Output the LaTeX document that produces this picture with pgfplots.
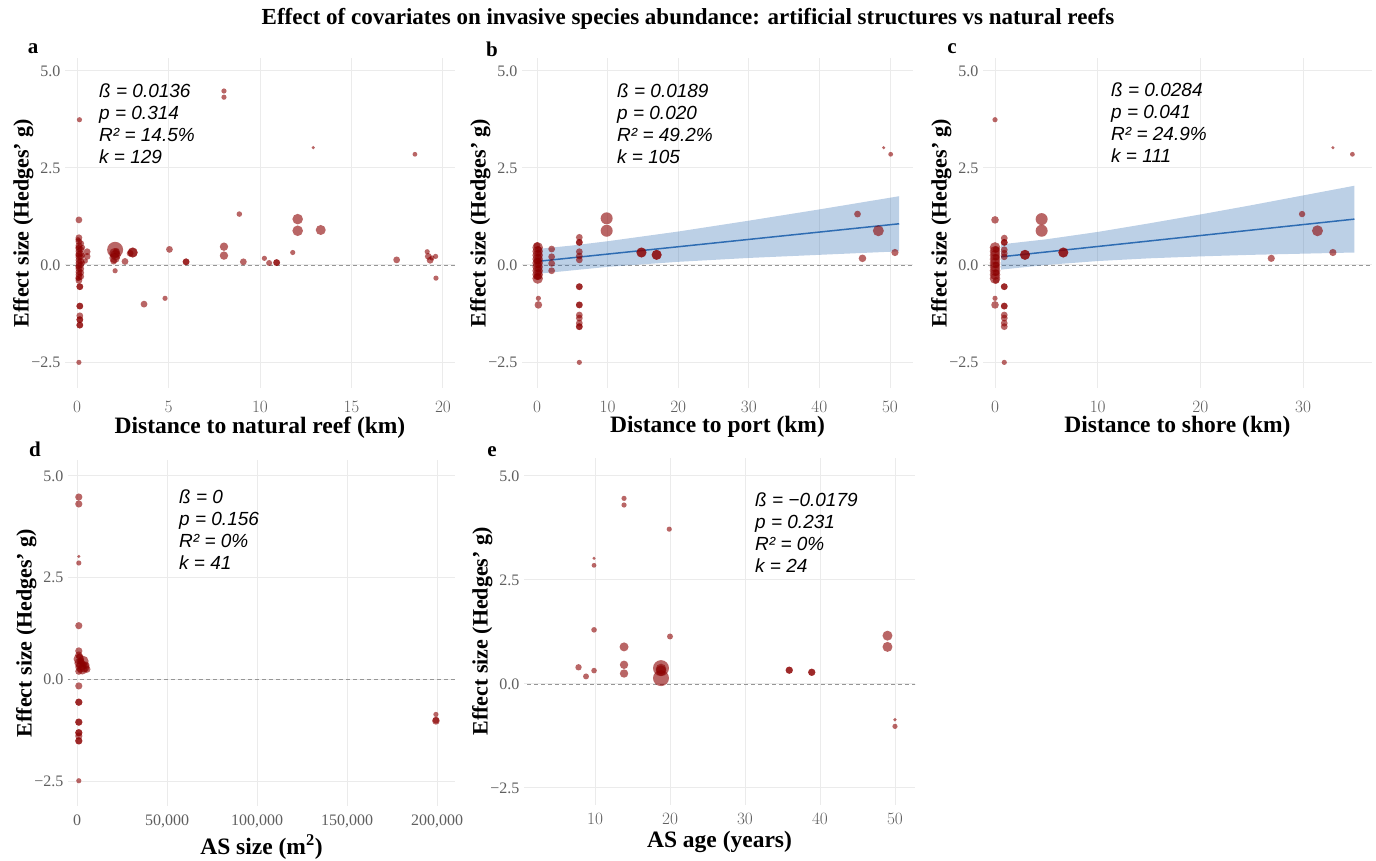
\documentclass[border=0pt]{standalone}
\usepackage{fontspec}
\setmainfont{Liberation Serif}
\setsansfont{Liberation Sans}
\usepackage{pgfplots}
\usepackage{pgfplotstable}
\pgfplotsset{compat=1.18}

\definecolor{ptred}{RGB}{139,0,0}
\definecolor{blueline}{RGB}{46,108,178}
\definecolor{gridgray}{RGB}{235,235,235}
\definecolor{tickgray}{RGB}{95,95,95}
\definecolor{zerogray}{RGB}{150,150,150}

% radius column r in pt
\pgfplotstableread{
x y r
0.13 3.74 2.6
0.10 -2.51 2.6
0.10 1.16 3.4
0.10 0.70 3.4
0.10 0.60 3.4
0.10 0.50 3.4
0.10 0.42 3.4
0.10 0.35 3.4
0.10 0.28 3.4
0.10 0.20 3.4
0.10 0.12 3.4
0.10 0.05 3.4
0.10 -0.02 3.4
0.10 -0.10 3.4
0.10 -0.18 3.4
0.10 -0.25 3.4
0.10 -0.32 3.4
0.10 -0.40 3.4
0.20 0.55 3.4
0.20 0.40 3.4
0.20 0.30 3.4
0.20 0.20 3.4
0.20 0.10 3.4
0.20 0.00 3.4
0.20 -0.10 3.4
0.20 -0.20 3.4
0.20 -0.30 3.4
0.05 0.65 2.6
0.05 0.45 2.6
0.05 0.25 2.6
0.05 -0.05 2.6
0.05 -0.35 2.6
0.30 0.45 2.6
0.30 0.25 2.6
0.30 0.05 2.6
0.55 0.34 3.4
0.55 0.22 3.4
0.45 0.10 2.6
0.15 -0.56 3.4
0.15 -0.56 3.4
0.15 -1.06 3.4
0.15 -1.06 3.4
0.15 -1.31 3.4
0.15 -1.41 3.4
0.15 -1.41 3.4
0.15 -1.55 3.4
0.15 -1.55 3.4
2.08 0.39 8.0
2.05 0.30 5.3
2.05 0.18 5.3
2.10 0.25 5.3
2.00 0.10 3.4
2.15 0.35 3.4
2.08 -0.15 2.6
2.62 0.09 3.4
3.04 0.32 5.0
3.04 0.32 5.0
2.90 0.30 3.4
3.66 -1.01 3.4
4.81 -0.86 2.6
5.05 0.40 3.4
5.96 0.08 3.4
5.96 0.08 3.4
8.03 4.48 2.6
8.03 4.32 2.6
8.03 0.47 4.2
8.03 0.24 4.2
8.87 1.31 2.8
9.09 0.08 3.4
10.24 0.17 2.6
10.50 0.05 3.0
10.91 0.06 3.4
10.91 0.06 3.4
11.79 0.32 2.6
12.06 1.18 5.3
12.06 0.88 5.3
12.91 3.02 1.7
13.32 0.90 5.0
17.47 0.13 3.4
18.47 2.85 2.4
19.14 0.34 2.6
19.20 0.22 3.4
19.30 0.12 3.4
19.40 0.18 2.6
19.60 0.22 2.6
19.62 -0.34 2.6
}\dataA

\pgfplotstableread{
x y r
0.10 0.45 5.3
0.10 0.35 5.3
0.10 0.25 5.3
0.10 0.15 5.3
0.10 0.05 5.3
0.10 -0.05 5.3
0.10 -0.15 5.3
0.10 -0.25 5.3
0.10 -0.35 5.3
0.20 0.40 3.4
0.20 0.30 3.4
0.20 0.20 3.4
0.20 0.10 3.4
0.20 0.00 3.4
0.20 -0.10 3.4
0.20 -0.20 3.4
0.20 -0.30 3.4
0.00 0.50 3.4
0.00 0.10 3.4
0.00 -0.30 3.4
0.20 -0.86 2.6
0.20 -1.03 3.8
2.08 0.41 3.4
2.08 0.21 3.4
2.08 0.04 3.4
2.08 -0.15 3.4
6.00 0.71 3.4
6.00 0.58 3.4
6.00 0.58 3.4
6.00 0.34 3.4
6.00 0.23 3.4
6.00 0.13 3.4
6.00 -0.56 3.4
6.00 -0.56 3.4
6.00 -1.03 3.4
6.00 -1.03 3.4
6.00 -1.29 3.4
6.00 -1.37 3.4
6.00 -1.50 3.4
6.00 -1.59 3.4
6.00 -1.59 3.4
6.00 -2.51 2.6
9.87 1.20 6.0
9.87 0.88 6.0
14.80 0.32 5.0
14.80 0.32 5.0
16.95 0.26 5.0
16.95 0.26 5.0
45.40 1.31 3.4
46.10 0.17 3.8
48.35 0.88 5.5
49.10 3.02 1.7
50.10 2.85 2.4
50.70 0.32 3.6
}\dataB

\pgfplotstableread{
x y r
0.00 3.74 2.6
0.00 1.16 3.8
0.00 0.45 5.3
0.00 0.35 5.3
0.00 0.25 5.3
0.00 0.15 5.3
0.00 0.05 5.3
0.00 -0.05 5.3
0.00 -0.15 5.3
0.00 -0.25 5.3
0.00 -0.35 5.3
0.10 0.40 3.4
0.10 0.20 3.4
0.10 0.00 3.4
0.10 -0.20 3.4
0.10 -0.40 3.4
0.00 -0.86 2.6
0.00 -1.03 3.8
0.90 0.69 3.4
0.90 0.58 3.4
0.90 0.58 3.4
0.90 0.39 3.4
0.90 0.21 3.4
0.90 0.30 3.4
0.90 -0.56 3.4
0.90 -0.56 3.4
0.90 -1.06 3.4
0.90 -1.06 3.4
0.90 -1.29 3.4
0.90 -1.37 3.4
0.90 -1.50 3.4
0.90 -1.59 3.4
0.90 -2.51 2.6
2.92 0.26 5.0
2.92 0.26 5.0
4.54 1.18 6.0
4.54 0.88 6.0
6.65 0.32 5.0
6.65 0.32 5.0
26.90 0.17 3.6
29.90 1.31 3.2
31.40 0.88 5.5
32.90 3.02 1.7
32.90 0.32 3.6
34.80 2.85 2.4
}\dataC

\pgfplotstableread{
x y r
1000 4.48 3.6
1000 4.31 3.6
1000 3.02 1.7
1000 2.86 2.6
1000 1.32 3.6
1000 0.70 3.6
1000 0.60 3.6
1000 0.50 5.3
1500 0.40 5.3
2000 0.30 5.3
2500 0.35 5.3
3000 0.25 5.3
3500 0.45 5.3
4000 0.30 5.3
5000 0.35 3.6
5500 0.25 3.6
1000 0.20 3.6
2000 0.45 3.6
1500 0.55 3.6
1000 -0.16 3.6
1000 -0.56 3.6
1000 -0.56 3.6
1000 -1.05 3.6
1000 -1.05 3.6
1000 -1.31 3.6
1000 -1.31 3.6
1000 -1.39 3.6
1000 -1.51 3.6
1000 -1.51 3.6
1000 -2.49 2.6
199400 -0.86 2.6
199400 -1.02 3.8
199400 -1.00 3.4
}\dataD

\pgfplotstableread{
x y r
13.87 4.46 2.6
13.87 4.30 2.6
19.90 3.72 2.6
9.87 3.02 1.7
9.87 2.85 2.4
9.87 1.30 2.8
20.00 1.14 3.0
13.87 0.89 4.5
49.00 1.16 5.0
49.00 0.89 5.0
7.80 0.40 3.2
8.80 0.18 3.0
9.87 0.32 2.8
13.87 0.46 4.2
13.87 0.25 4.2
18.80 0.38 8.0
18.80 0.36 5.3
18.80 0.32 5.3
18.80 0.14 8.0
35.90 0.33 3.6
35.90 0.33 3.6
38.90 0.28 3.6
38.90 0.28 3.6
50.00 -0.86 1.8
50.00 -1.02 2.6
}\dataE

\pgfplotsset{
  panel/.style={
    scale only axis, anchor=south west,
    axis line style={draw=none},
    major tick length=0pt,
    grid=major,
    major grid style={color=gridgray, line width=0.9pt},
    tick label style={font=\fontsize{16}{16}\selectfont, color=tickgray},
    xlabel style={font=\fontsize{23.5}{25}\selectfont\bfseries},
    ylabel style={font=\fontsize{22}{24}\selectfont\bfseries},
    ylabel={Effect size (Hedges' g)},
    ylabel shift=-9pt,
    ytick={-2.5,0,2.5,5},
    yticklabels={−2.5,0.0,2.5,5.0},
    scaled x ticks=false,
    yticklabel style={xshift=-1pt},
  },
  toprow/.style={xticklabel style={yshift=-10pt}, xlabel shift=-3pt},
  botrow/.style={xticklabel style={yshift=-5pt}, xlabel shift=0pt},
  pts/.style={
    scatter, only marks, mark=*,
    scatter/use mapped color={draw=ptred, draw opacity=0, fill=ptred, fill opacity=0.6},
    visualization depends on={\thisrow{r} \as \rad},
    scatter/@pre marker code/.append style={/tikz/mark size=\rad},
  },
  zero/.style={zerogray, line width=0.7pt, dash pattern=on 4pt off 3pt},
}

\begin{document}
\begin{tikzpicture}
\useasboundingbox (0pt,0pt) rectangle (1376pt,860pt);

\node[font=\fontsize{23}{25}\selectfont\bfseries] at (688pt,841pt)
  {Effect of covariates on invasive species abundance: artificial structures vs natural reefs};

% a
\begin{axis}[panel, toprow, at={(65pt,472pt)}, width=390pt, height=330pt,
  xmin=-0.66, xmax=20.66, ymin=-3.17, ymax=5.33,
  xtick={0,5,10,15,20},
  xlabel={Distance to natural reef (km)}]
  \addplot[zero] coordinates {(-1,0) (21,0)};
  \addplot[pts] table {\dataA};
\end{axis}

% b
\begin{axis}[panel, toprow, at={(522pt,472pt)}, width=391pt, height=330pt,
  xmin=-2.12, xmax=53.26, ymin=-3.17, ymax=5.33,
  xtick={0,10,20,30,40,50},
  xlabel={Distance to port (km)}]
  \addplot[zero] coordinates {(-3,0) (54,0)};
  \addplot[draw=none, fill=blueline, fill opacity=0.32] coordinates {
    (0,0.41) (5,0.50) (10,0.61) (20,0.86) (30,1.14) (40,1.43) (51.3,1.77)
    (51.3,0.35) (40,0.26) (30,0.18) (20,0.08) (10,-0.05) (5,-0.14) (0,-0.23)} -- cycle;
  \addplot[pts] table {\dataB};
  \addplot[blueline, line width=1.5pt] coordinates {(0,0.09) (51.3,1.06)};
\end{axis}

% c
\begin{axis}[panel, toprow, at={(983pt,472pt)}, width=389pt, height=330pt,
  xmin=-1.17, xmax=36.71, ymin=-3.17, ymax=5.33,
  xtick={0,10,20,30},
  xlabel={Distance to shore (km)}]
  \addplot[zero] coordinates {(-2,0) (37,0)};
  \addplot[draw=none, fill=blueline, fill opacity=0.32] coordinates {
    (0.6,0.53) (5,0.66) (10,0.85) (15,1.07) (20,1.30) (25,1.54) (30,1.79) (35,2.04)
    (35,0.32) (30,0.29) (25,0.26) (20,0.22) (15,0.17) (10,0.10) (5,0.00) (0.6,-0.12)} -- cycle;
  \addplot[pts] table {\dataC};
  \addplot[blueline, line width=1.5pt] coordinates {(0.6,0.21) (35,1.18)};
\end{axis}

% d
\begin{axis}[panel, botrow, at={(68pt,54pt)}, width=387pt, height=346pt,
  xmin=-5000, xmax=210000, ymin=-3.11, ymax=5.39,
  xtick={0,50000,100000,150000,200000},
  xticklabels={0,{50,000},{100,000},{150,000},{200,000}},
  xlabel={AS size (m\textsuperscript{2})}]
  \addplot[zero] coordinates {(-6000,0) (211000,0)};
  \addplot[pts] table {\dataD};
\end{axis}

% e
\begin{axis}[panel, botrow, at={(524pt,55pt)}, width=391pt, height=347pt,
  xmin=0.53, xmax=52.67, ymin=-2.91, ymax=5.43,
  xtick={10,20,30,40,50},
  xlabel={AS age (years)}]
  \addplot[zero] coordinates {(0,0) (53,0)};
  \addplot[pts] table {\dataE};
\end{axis}

% panel letters
\begin{scope}[every node/.style={font=\fontsize{21}{21}\selectfont\bfseries}]
\node at (33pt,811pt) {a};
\node at (492pt,811pt) {b};
\node at (952pt,811pt) {c};
\node at (35pt,411pt) {d};
\node at (492pt,408pt) {e};
\end{scope}

% statistics
\begin{scope}[every node/.style={anchor=north west, inner sep=0pt, align=left,
    font=\fontsize{19}{21.7}\selectfont\sffamily\itshape}]
\node at (99pt,776pt) {ß = 0.0136\\p = 0.314\\R² = 14.5\%\\k = 129};
\node at (617pt,776pt) {ß = 0.0189\\p = 0.020\\R² = 49.2\%\\k = 105};
\node at (1111pt,777pt) {ß = 0.0284\\p = 0.041\\R² = 24.9\%\\k = 111};
\node at (179pt,370pt) {ß = 0\\p = 0.156\\R² = 0\%\\k = 41};
\node at (755pt,367pt) {ß = −0.0179\\p = 0.231\\R² = 0\%\\k = 24};
\end{scope}
\end{tikzpicture}
\end{document}
